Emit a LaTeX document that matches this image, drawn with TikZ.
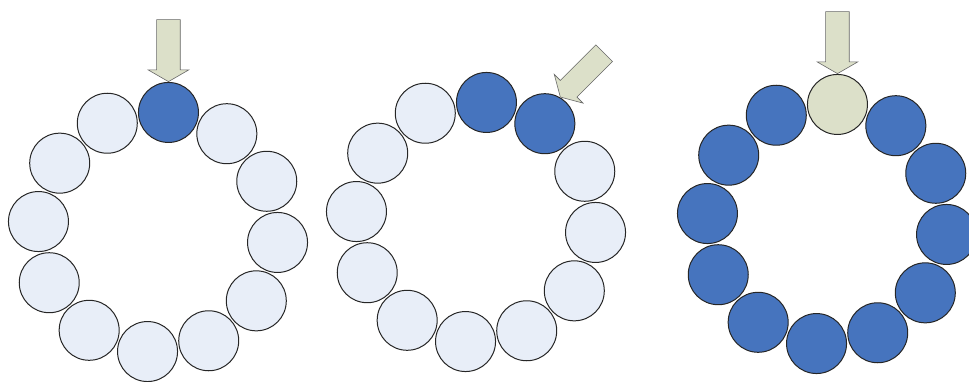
\documentclass[tikz,border=0pt]{standalone}
\usepackage{tikz}
\usetikzlibrary{shapes.arrows, calc}
\definecolor{beadpale}{HTML}{E8EEF8}
\definecolor{beadblue}{HTML}{4674BE}
\definecolor{pointersage}{HTML}{DCE0C9}
\definecolor{rim}{HTML}{262626}

\begin{document}
\begin{tikzpicture}[x=1pt, y=1pt,
  bead/.style={circle, draw=rim, line width=1pt, fill=beadpale, minimum size=60pt, inner sep=0pt},
  taken/.style={bead, fill=beadblue},
  pointer/.style={single arrow, draw=rim!70, line width=0.6pt, fill=pointersage,
    minimum height=62pt, inner xsep=0pt, inner ysep=11.5pt, single arrow head extend=8.5pt,
    single arrow tip angle=120}]
  \useasboundingbox (0,0) rectangle (969,381);
  \coordinate (ringA) at (158,149);
  \coordinate (ringB) at (476,159);
  \coordinate (ringC) at (827,157);
  % first ring: one bead taken
  \node[taken] (a0) at ($(ringA)+(85:120)$) {};
  \foreach \i in {1,...,11}{ \node[bead] (a\i) at ($(ringA)+({85-30*\i}:120)$) {}; }
  \node[pointer, rotate=-90, anchor=tip] (pa) at (a0.north) {};
  % second ring: two beads taken
  \node[taken] (b0) at ($(ringB)+(85:120)$) {};
  \node[taken] (b1) at ($(ringB)+(55:120)$) {};
  \foreach \i in {2,...,11}{ \node[bead] (b\i) at ($(ringB)+({85-30*\i}:120)$) {}; }
  \node[pointer, rotate=-135, anchor=tip] (pb) at (b1.60) {};
  % third ring: all taken but the top one
  \node[bead, fill=pointersage] (c0) at ($(ringC)+(85:120)$) {};
  \foreach \i in {1,...,11}{ \node[taken] (c\i) at ($(ringC)+({85-30*\i}:120)$) {}; }
  \node[pointer, rotate=-90, anchor=tip] (pc) at (c0.north) {};
\end{tikzpicture}
\end{document}
